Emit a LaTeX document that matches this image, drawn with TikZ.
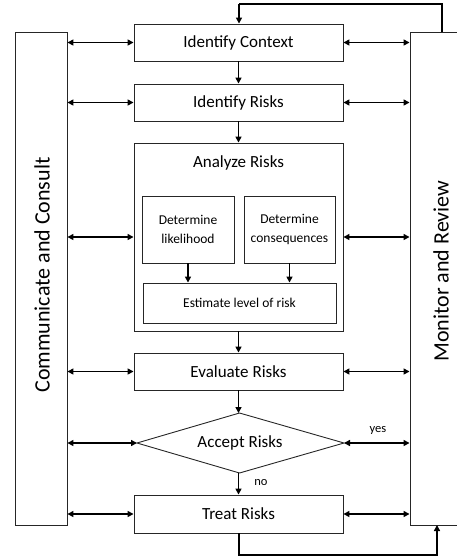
\documentclass[tikz,border=0pt]{standalone}
\usepackage{fontspec}
\setmainfont{Carlito}
\usetikzlibrary{arrows.meta}
\begin{document}
\begin{tikzpicture}[x=1pt,y=-1pt,
  box/.style={draw=black!85,line width=0.9pt,rectangle,inner sep=0pt,align=center,font=\fontsize{17}{20}\selectfont},
  subbox/.style={box,font=\fontsize{13.5}{19.5}\selectfont},
  side/.style={draw=black!85,line width=0.9pt,rectangle,inner sep=0pt,minimum width=52pt,minimum height=493pt},
  arr/.style={line width=1.5pt,-{Triangle[length=6pt,width=6pt]}},
  darr/.style={line width=1.5pt,{Triangle[length=6pt,width=6pt]}-{Triangle[length=6pt,width=6pt]}},
  lbl/.style={font=\fontsize{12.5}{14}\selectfont,inner sep=0pt}]
\useasboundingbox (0,0) rectangle (457,558);
\begin{scope}
\clip (0,0) rectangle (457,558);
% side boxes
\node[side] (lc) at (41,278.5) {};
\node[side,minimum width=60pt] (rc) at (440,278.5) {};
\end{scope}
\node[rotate=90,font=\fontsize{22}{24}\selectfont] (lct) at (42,275) {Communicate and Consult};
\node[rotate=90,font=\fontsize{22}{24}\selectfont] (rct) at (441,271) {Monitor and Review};
% main column
\node[box,minimum width=209pt,minimum height=37pt] (ctx) at (238.5,42.5) {Identify Context};
\node[box,minimum width=209pt,minimum height=37pt] (idr) at (238.5,102.5) {Identify Risks};
\node[box,minimum width=209pt,minimum height=188pt] (ana) at (238.5,237) {};
\node[font=\fontsize{17}{20}\selectfont,inner sep=0pt] (anat) at (238.5,163) {Analyze Risks};
\node[subbox,minimum width=92pt,minimum height=67pt] (lik) at (188,229.5) {Determine\\likelihood};
\node[subbox,minimum width=91pt,minimum height=67pt] (con) at (289.5,229.5) {Determine\\consequences};
\node[subbox,minimum width=193pt,minimum height=40pt] (est) at (239.5,303) {Estimate level of risk};
\node[box,minimum width=209pt,minimum height=37pt] (eva) at (238.5,371.5) {Evaluate Risks};
% diamond
\coordinate (accL) at (137,443);
\coordinate (accR) at (344,443);
\coordinate (accT) at (239.5,413);
\coordinate (accB) at (239.5,473);
\draw[draw=black!85,line width=0.9pt] (accL) -- (accT) -- (accR) -- (accB) -- cycle;
\node[font=\fontsize{17}{20}\selectfont,inner sep=0pt] (acc) at (240,443) {Accept Risks};
\node[box,minimum width=209pt,minimum height=38pt] (tre) at (238.5,514) {Treat Risks};
% vertical flow
\draw[arr] (ctx) -- (idr);
\draw[arr] (idr) -- (ana);
\draw[arr] (ana) -- (eva);
\draw[arr] (eva.south) -- (eva.south |- accT);
\draw[arr] (accB -| tre.north) -- (tre.north);
\draw[arr] (lik.south) -- (lik.south |- est.north);
\draw[arr] (con.south) -- (con.south |- est.north);
\node[lbl] (no) at (261,483) {no};
\node[lbl] (yes) at (378,430) {yes};
% feedback loops
\coordinate (topR) at (442,32);
\coordinate (topL) at (239,4);
\draw[line width=1.8pt] (topR) |- (topL);
\draw[arr,line width=1.8pt] (topL) -- (topL |- ctx.north);
\coordinate (botL) at (239,555);
\coordinate (botR) at (437,525);
\draw[line width=1.8pt] (tre.south -| botL) -- (botL) -| ([yshift=-10pt]botR);
\draw[arr,line width=1.8pt] ([yshift=-12pt]botR) -- (botR);
% side double arrows
\foreach \n in {ctx,idr,ana,eva,tre}{
  \draw[darr] (lc.east |- \n.west) -- (\n.west);
  \draw[darr] (\n.east) -- (rc.west |- \n.east);
}
\draw[darr] (lc.east |- accL) -- (accL);
\draw[darr] (accR) -- (rc.west |- accR);
\end{tikzpicture}
\end{document}
